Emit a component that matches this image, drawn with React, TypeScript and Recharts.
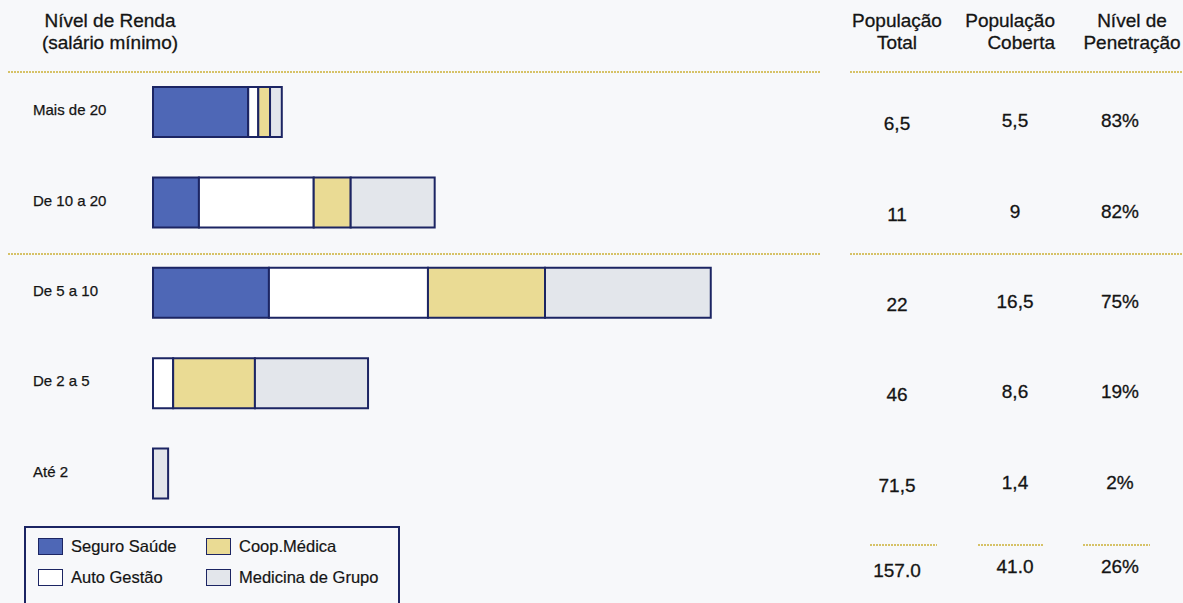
import React from 'react';
import { Bar, BarChart, XAxis, YAxis } from 'recharts';

// Faixas de renda (salário mínimo)
const incomeLevels = ['Mais de 20', 'De 10 a 20', 'De 5 a 10', 'De 2 a 5', 'Até 2'];

// Segmentos das barras (escala relativa)
const seguroSaude = [17.0, 8.2, 20.7, 0, 0];
const autoGestao = [1.8, 20.5, 28.4, 3.6, 0];
const coopMedica = [2.1, 6.6, 20.9, 14.6, 0];
const medicinaGrupo = [2.1, 15.0, 29.6, 20.2, 2.7];

// Tabela à direita
const populacaoTotal = ['6,5', '11', '22', '46', '71,5'];
const populacaoCoberta = ['5,5', '9', '16,5', '8,6', '1,4'];
const penetracao = ['83%', '82%', '75%', '19%', '2%'];
const totais = ['157.0', '41.0', '26%'];

const series = [
  { key: 'seguro', name: 'Seguro Saúde', color: '#4e67b6' },
  { key: 'auto', name: 'Auto Gestão', color: '#ffffff' },
  { key: 'coop', name: 'Coop.Médica', color: '#eadb94' },
  { key: 'grupo', name: 'Medicina de Grupo', color: '#e3e6eb' },
];

const FONT = '"Liberation Sans", Arial, sans-serif';
const INK = '#141414';
const BORDER = '#1c2563';
const DOTS = '#d6c267';
const COL_X = [897, 1015, 1120];

const App: React.FC = () => {
  const data = incomeLevels.map((level, i) => ({
    level,
    seguro: seguroSaude[i],
    auto: autoGestao[i],
    coop: coopMedica[i],
    grupo: medicinaGrupo[i],
  }));

  const leftTick = ({ y, payload }: any) => (
    <text
      x={33}
      y={y}
      dy={3}
      fontSize={15}
      fontFamily={FONT}
      fill={INK}
      stroke={INK}
      strokeWidth={0.25}
      textAnchor="start"
    >
      {payload.value}
    </text>
  );

  const rightTick = ({ y, index }: any) => (
    <g fontFamily={FONT} fontSize={19} fill={INK} stroke={INK} strokeWidth={0.3} textAnchor="middle">
      <text x={COL_X[0]} y={y} dy={18}>{populacaoTotal[index]}</text>
      <text x={COL_X[1]} y={y} dy={15}>{populacaoCoberta[index]}</text>
      <text x={COL_X[2]} y={y} dy={15}>{penetracao[index]}</text>
    </g>
  );

  const header: React.CSSProperties = {
    position: 'absolute',
    fontFamily: FONT,
    fontSize: 19,
    lineHeight: '22px',
    color: INK,
    WebkitTextStroke: '0.3px #141414',
  };

  return (
    <div
      style={{
        position: 'absolute',
        left: 0,
        top: 0,
        width: 1183,
        height: 603,
        overflow: 'hidden',
        background: '#f7f8fa',
      }}
    >
      <div style={{ ...header, left: 0, top: 10, width: 220, textAlign: 'center' }}>
        Nível de Renda
        <br />
        (salário mínimo)
      </div>
      <div style={{ ...header, left: 837, top: 10, width: 120, textAlign: 'center' }}>
        População
        <br />
        Total
      </div>
      <div style={{ ...header, left: 925, top: 10, width: 130, textAlign: 'right' }}>
        População
        <br />
        Coberta
      </div>
      <div style={{ ...header, left: 1078, top: 10, width: 108, textAlign: 'center' }}>
        Nível de
        <br />
        Penetração
      </div>

      <svg width={1183} height={603} style={{ position: 'absolute', left: 0, top: 0 }}>
        <g stroke={DOTS} strokeWidth={2} strokeDasharray="2 1">
          <line x1={8} y1={72} x2={820} y2={72} />
          <line x1={850} y1={72} x2={1183} y2={72} />
          <line x1={8} y1={254} x2={820} y2={254} />
          <line x1={850} y1={254} x2={1183} y2={254} />
          <line x1={870} y1={545} x2={937} y2={545} />
          <line x1={978} y1={545} x2={1043} y2={545} />
          <line x1={1083} y1={545} x2={1150} y2={545} />
        </g>
        <g fontFamily={FONT} fontSize={19} fill={INK} stroke={INK} strokeWidth={0.3} textAnchor="middle">
          {totais.map((t, i) => (
            <text key={t} x={COL_X[i]} y={i === 0 ? 577 : 573}>
              {t}
            </text>
          ))}
        </g>
      </svg>

      <div style={{ position: 'absolute', left: 0, top: 0 }}>
        <BarChart
          layout="vertical"
          width={1183}
          height={603}
          data={data}
          margin={{ top: 67, right: 0, bottom: 84, left: 0 }}
          barSize={50}
        >
          <XAxis type="number" domain={[0, 100]} hide />
          <YAxis
            type="category"
            dataKey="level"
            width={153}
            axisLine={false}
            tickLine={false}
            tick={leftTick}
          />
          <YAxis
            yAxisId="table"
            type="category"
            dataKey="level"
            orientation="right"
            width={470}
            axisLine={false}
            tickLine={false}
            tick={rightTick}
          />
          {series.map((s) => (
            <Bar
              key={s.key}
              dataKey={s.key}
              name={s.name}
              stackId="renda"
              fill={s.color}
              stroke={BORDER}
              strokeWidth={2}
              isAnimationActive={false}
            />
          ))}
        </BarChart>
      </div>

      <div
        style={{
          position: 'absolute',
          left: 24,
          top: 526,
          width: 376,
          height: 90,
          border: `2px solid ${BORDER}`,
          fontFamily: FONT,
          fontSize: 16.5,
          color: INK,
          WebkitTextStroke: '0.2px #141414',
          display: 'grid',
          gridTemplateColumns: '168px 200px',
          gridAutoRows: '31px',
          padding: '8px 0 0 12px',
          boxSizing: 'border-box',
        }}
      >
        {[series[0], series[2], series[1], series[3]].map((s) => (
          <div key={s.key} style={{ display: 'flex', alignItems: 'center', height: 20 }}>
            <span
              style={{
                width: 23,
                height: 15,
                background: s.color,
                border: `1.5px solid ${BORDER}`,
                marginRight: 8,
                display: 'inline-block',
                flexShrink: 0,
              }}
            />
            {s.name}
          </div>
        ))}
      </div>
    </div>
  );
};

export default App;
